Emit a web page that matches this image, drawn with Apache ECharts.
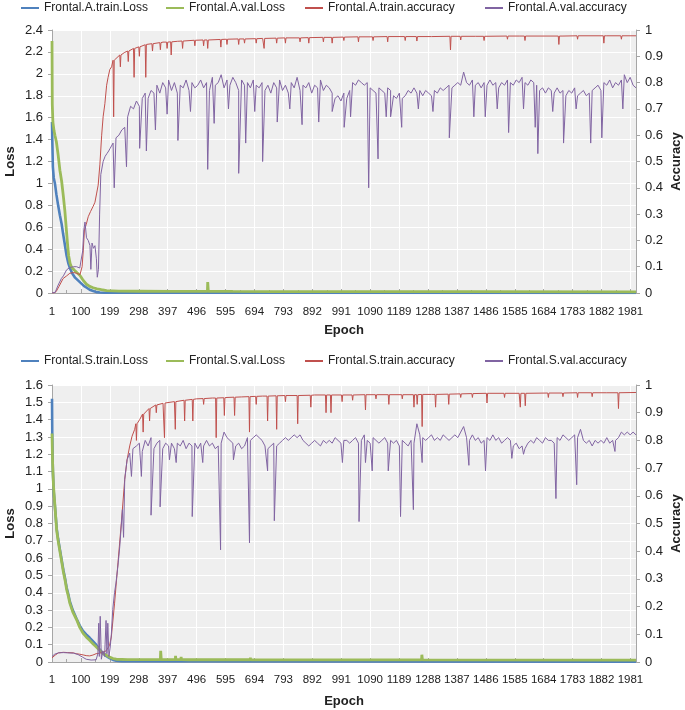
<!DOCTYPE html>
<html><head><meta charset="utf-8">
<script src="https://cdn.jsdelivr.net/npm/echarts@6/dist/echarts.min.js"></script>
<style>html,body{margin:0;padding:0;background:#fff}#c{width:685px;height:710px}</style>
</head><body><div id="c"></div>
<script>
// ---------------- DATA (epoch, value) ----------------
const seriesNamesA = ['Frontal.A.train.Loss','Frontal.A.val.Loss','Frontal.A.train.accuracy','Frontal.A.val.accuracy'];
const seriesNamesS = ['Frontal.S.train.Loss','Frontal.S.val.Loss','Frontal.S.train.accuracy','Frontal.S.val.accuracy'];

// Panel A
const aTrainLoss = [[1,1.56],[2,1.4],[4,1.15],[7,1.05],[11,1.0],[16,0.9],[22,0.8],[28,0.71],[34,0.63],[39,0.54],[45,0.44],[51,0.34],[57,0.27],[62,0.23],[70,0.18],[80,0.14],[90,0.115],[100,0.09],[110,0.065],[120,0.048],[130,0.03],[142,0.018],[153,0.008],[165,0.004],[180,0.002],[2000,0.001]];
const aValLoss = [[1,2.3],[2,1.72],[4,1.56],[8,1.48],[11,1.44],[16,1.38],[22,1.26],[28,1.12],[34,1.02],[40,0.88],[45,0.75],[51,0.55],[55,0.42],[58,0.34],[63,0.27],[68,0.235],[77,0.21],[85,0.19],[97,0.16],[108,0.115],[119,0.08],[130,0.06],[142,0.048],[155,0.038],[170,0.03],[188,0.021],[230,0.017],[300,0.016],[301,0.028],[302,0.016],[409,0.015],[410,0.03],[411,0.015],[533,0.015],[534,0.1],[536,0.015],[620,0.014],[621,0.026],[622,0.014],[760,0.013],[761,0.02],[762,0.013],[1186,0.012],[1187,0.03],[1188,0.012],[1450,0.012],[1451,0.02],[1452,0.012],[2000,0.011]];
const aTrainAccBase = [[1,0],[8,0],[15,0.005],[25,0.025],[39,0.055],[51,0.065],[62,0.075],[75,0.078],[85,0.075],[97,0.07],[104,0.1],[108,0.16],[112,0.24],[118,0.26],[125,0.29],[133,0.31],[142,0.33],[148,0.345],[154,0.38],[159,0.41],[165,0.49],[171,0.6],[176,0.67],[182,0.72],[188,0.79],[193,0.82],[199,0.85],[205,0.86],[216,0.886],[233,0.905],[250,0.915],[267,0.925],[290,0.933],[324,0.945],[350,0.95],[381,0.954],[430,0.957],[495,0.962],[600,0.965],[722,0.968],[850,0.97],[1000,0.973],[1150,0.975],[1300,0.975],[1450,0.976],[1600,0.977],[1750,0.977],[1900,0.978],[2000,0.978]];
// [epoch, low, surrounding level]
const aTrainAccDips = [[212,0.67,0.885],[235,0.86,0.905],[262,0.88,0.92],[282,0.82,0.93],[300,0.9,0.936],[322,0.82,0.944],[345,0.92,0.948],[372,0.925,0.952],[395,0.93,0.954],[409,0.905,0.955],[448,0.93,0.958],[490,0.94,0.961],[520,0.94,0.962],[534,0.93,0.962],[579,0.935,0.964],[600,0.945,0.965],[640,0.945,0.966],[660,0.95,0.966],[700,0.95,0.967],[727,0.93,0.968],[770,0.95,0.969],[800,0.95,0.97],[850,0.955,0.97],[880,0.95,0.971],[930,0.955,0.972],[960,0.95,0.972],[1000,0.96,0.973],[1050,0.955,0.974],[1100,0.96,0.974],[1150,0.955,0.975],[1210,0.96,0.975],[1250,0.958,0.975],[1365,0.924,0.976],[1400,0.962,0.976],[1480,0.96,0.976],[1560,0.965,0.977],[1620,0.96,0.977],[1736,0.945,0.977],[1800,0.965,0.978],[1890,0.95,0.978],[1950,0.965,0.978]];
const aValAccEarly = [[1,0],[12,0.003],[22,0.03],[33,0.055],[40,0.065],[51,0.088],[62,0.097],[75,0.1],[85,0.1],[96,0.095],[102,0.092],[106,0.16],[110,0.24],[114,0.27],[119,0.21],[125,0.2],[131,0.18],[134,0.09],[138,0.19],[143,0.17],[148,0.18],[153,0.13],[156,0.06],[160,0.09],[164,0.3],[168,0.45],[176,0.5],[183,0.52],[189,0.53],[195,0.54]];
const aValAccPlateauStart = 200, aValAccPlateauStep = 10;
const aValAccPlateau = [
 0.55,0.57,0.59,0.6,0.62,0.63,0.67,
 0.71,0.7,0.73,0.71,0.74,0.76,0.74,0.77,0.76,
 0.79,0.76,0.8,0.78,0.81,0.77,0.8,0.76,0.79,0.78,0.81,0.77,0.8,0.78,0.79,
 0.81,0.78,0.8,0.77,0.82,0.79,0.8,0.83,0.78,0.81,0.79,0.82,0.8,0.77,0.81,0.79,0.8,0.78,0.81,0.79,
 0.78,0.8,0.77,0.79,0.76,0.8,0.78,0.81,0.77,0.79,0.76,0.8,0.78,0.82,0.77,0.79,0.78,0.8,0.76,0.79,0.78,0.81,0.77,0.79,0.78,
 0.76,0.74,0.75,0.73,0.76,
 0.74,0.77,0.8,0.79,0.81,0.8,0.79,0.8,0.78,
 0.77,0.76,0.78,0.77,0.76,0.78,0.77,0.75,0.74,0.76,0.74,0.75,0.77,0.76,0.78,0.76,0.77,0.75,0.77,0.76,0.75,0.77,0.76,0.78,0.77,0.78,0.79,0.78,0.79,0.8,0.79,
 0.84,0.8,0.79,0.81,0.79,0.8,0.78,0.8,0.79,0.81,0.79,0.8,0.78,0.8,0.79,0.81,0.8,0.79,0.81,0.8,0.82,0.8,0.79,0.81,0.8,
 0.79,0.77,0.78,0.76,0.78,0.77,0.76,0.78,0.76,0.77,0.75,0.77,0.76,0.78,0.75,0.76,0.77,0.75,0.76,0.77,
 0.78,0.79,0.77,0.8,0.79,0.81,0.78,0.8,0.79,0.81,0.83,0.8,0.82,0.79,0.78];
const aValAccDips = [[214,0.4],[256,0.48],[301,0.55],[324,0.54],[355,0.62],[395,0.68],[432,0.58],[475,0.69],[534,0.47],[556,0.645],[605,0.7],[640,0.455],[664,0.57],[695,0.69],[722,0.5],[772,0.65],[815,0.7],[857,0.64],[914,0.65],[960,0.69],[1001,0.63],[1023,0.67],[1085,0.4],[1117,0.51],[1145,0.67],[1160,0.67],[1198,0.63],[1255,0.7],[1305,0.69],[1361,0.59],[1445,0.67],[1484,0.67],[1525,0.7],[1564,0.61],[1615,0.7],[1655,0.63],[1664,0.53],[1715,0.69],[1752,0.57],[1795,0.7],[1845,0.57],[1883,0.59],[1955,0.7]];

// Panel S
const sTrainLoss = [[1,1.52],[2,1.3],[4,1.1],[7,0.98],[11,0.9],[17,0.77],[22,0.71],[28,0.65],[34,0.59],[40,0.53],[46,0.48],[51,0.43],[57,0.39],[62,0.35],[72,0.3],[85,0.25],[96,0.21],[107,0.18],[118,0.16],[130,0.14],[141,0.12],[152,0.1],[163,0.075],[175,0.05],[186,0.035],[198,0.022],[210,0.012],[221,0.007],[240,0.004],[2000,0.002]];
const sValLoss = [[1,1.32],[3,1.15],[6,1.02],[11,0.9],[17,0.76],[22,0.7],[28,0.64],[34,0.58],[40,0.52],[46,0.47],[51,0.42],[57,0.38],[62,0.34],[72,0.29],[85,0.245],[96,0.2],[107,0.167],[118,0.145],[130,0.125],[141,0.105],[152,0.088],[163,0.07],[175,0.05],[186,0.04],[198,0.028],[210,0.02],[221,0.016],[260,0.014],[299,0.014],[300,0.025],[301,0.014],[372,0.014],[373,0.065],[375,0.014],[423,0.014],[424,0.035],[425,0.014],[442,0.014],[443,0.03],[444,0.014],[469,0.013],[470,0.022],[471,0.013],[539,0.013],[540,0.02],[541,0.013],[659,0.013],[660,0.022],[661,0.013],[679,0.013],[680,0.025],[681,0.013],[1266,0.012],[1267,0.042],[1269,0.012],[2000,0.011]];
const sTrainAccBase = [[1,0.015],[12,0.025],[23,0.033],[40,0.035],[55,0.034],[74,0.033],[84,0.03],[96,0.028],[110,0.025],[118,0.023],[130,0.022],[141,0.025],[152,0.03],[164,0.032],[175,0.035],[186,0.04],[198,0.06],[204,0.09],[215,0.21],[227,0.36],[239,0.51],[250,0.66],[258,0.73],[267,0.78],[275,0.815],[284,0.84],[301,0.875],[318,0.9],[335,0.915],[358,0.928],[381,0.934],[420,0.94],[460,0.945],[495,0.95],[550,0.953],[600,0.955],[650,0.957],[722,0.96],[800,0.962],[900,0.964],[1000,0.964],[1100,0.965],[1200,0.965],[1300,0.966],[1400,0.968],[1500,0.97],[1600,0.97],[1700,0.971],[1800,0.972],[1900,0.972],[2000,0.973]];
const sTrainAccDips = [[290,0.8,0.86],[313,0.83,0.895],[335,0.87,0.915],[358,0.9,0.928],[386,0.81,0.935],[423,0.84,0.94],[455,0.87,0.945],[483,0.87,0.948],[520,0.93,0.951],[563,0.81,0.953],[591,0.89,0.954],[626,0.89,0.956],[677,0.83,0.958],[700,0.93,0.959],[739,0.87,0.96],[770,0.84,0.961],[800,0.94,0.962],[842,0.86,0.962],[887,0.92,0.963],[939,0.9,0.964],[956,0.9,0.964],[994,0.94,0.964],[1030,0.945,0.964],[1074,0.91,0.965],[1110,0.95,0.965],[1154,0.93,0.965],[1200,0.95,0.965],[1240,0.92,0.965],[1251,0.93,0.965],[1268,0.85,0.966],[1314,0.92,0.966],[1359,0.93,0.967],[1400,0.955,0.968],[1440,0.955,0.969],[1490,0.935,0.97],[1550,0.955,0.97],[1604,0.92,0.97],[1621,0.925,0.97],[1700,0.955,0.971],[1750,0.958,0.971],[1800,0.955,0.972],[1850,0.958,0.972],[1940,0.915,0.972]];
const sValAccEarly = [[1,0.02],[10,0.028],[23,0.033],[40,0.034],[55,0.033],[74,0.032],[90,0.027],[105,0.018],[118,0.01],[135,0.007],[152,0.008],[158,0.03],[161,0.14],[163,0.02],[166,0.165],[170,0.01],[175,0.04],[181,0.02],[186,0.15],[189,0.03],[192,0.14],[196,0.02],[200,0.05],[204,0.1],[209,0.19],[215,0.25],[220,0.285],[227,0.35],[233,0.417],[242,0.55],[250,0.66],[258,0.73],[267,0.754],[278,0.77],[290,0.78]];
const sValAccPlateauStart = 300, sValAccPlateauStep = 10;
const sValAccPlateau = [
 0.79,0.76,0.8,0.78,0.81,0.77,0.79,0.8,0.77,0.79,0.78,
 0.79,0.77,0.79,0.78,0.8,0.77,0.79,0.78,0.79,0.77,0.79,0.78,0.8,0.78,0.79,0.77,0.78,0.79,0.83,0.81,
 0.8,0.79,0.78,0.79,0.77,0.78,0.81,0.8,0.81,0.82,0.81,0.8,0.78,0.77,0.78,0.79,0.78,0.79,0.8,0.81,
 0.8,0.81,0.82,0.81,0.82,0.8,0.79,0.78,0.79,0.8,0.79,0.78,0.8,0.79,0.8,0.79,0.81,0.8,0.79,0.8,
 0.8,0.79,0.8,0.81,0.79,0.8,0.82,0.8,0.79,0.81,0.8,0.79,0.8,0.81,0.79,0.8,0.79,0.8,0.78,0.8,0.79,0.78,0.8,0.79,
 0.86,0.82,0.81,0.8,0.81,0.82,0.8,0.81,0.8,0.82,0.81,0.8,0.81,0.82,0.81,0.83,
 0.85,0.81,0.8,0.82,0.8,0.81,0.79,0.8,0.81,0.8,0.82,0.8,0.81,0.79,0.8,0.81,0.8,
 0.78,0.79,0.77,0.78,0.77,0.79,
 0.8,0.79,0.81,0.8,0.79,0.81,0.8,0.8,0.79,
 0.81,0.8,0.82,0.81,0.8,0.81,0.82,0.81,0.84,
 0.8,0.79,0.8,0.78,0.8,0.79,0.8,0.79,0.81,0.79,0.8,0.8,0.81,
 0.83,0.82,0.83,0.82,0.83,0.82];
const sValAccDips = [[246,0.45],[273,0.67],[307,0.67],[340,0.53],[371,0.56],[403,0.73],[426,0.72],[481,0.525],[517,0.72],[578,0.405],[622,0.73],[677,0.43],[739,0.69],[762,0.51],[995,0.72],[1052,0.507],[1074,0.72],[1097,0.69],[1152,0.69],[1194,0.525],[1238,0.55],[1268,0.72],[1428,0.71],[1485,0.69],[1575,0.735],[1615,0.75],[1726,0.59],[1797,0.64],[1928,0.76]];

// ---------------- helpers to assemble series ----------------
const byEpoch = (a, b) => a[0] - b[0];
function plateau(start, step, vals) { return vals.map((v, i) => [start + i * step, v]); }
function dipTriplets(dips) { const out = []; dips.forEach(([e, low, lvl]) => { out.push([e - 2, lvl], [e, low], [e + 2, lvl]); }); return out; }
function toAxis(pts) { return pts.slice().sort(byEpoch).map(([e, v]) => [e - 1, v]); }

const aTrainAcc = toAxis(aTrainAccBase.concat(dipTriplets(aTrainAccDips)));
const aValAcc = toAxis(aValAccEarly.concat(plateau(aValAccPlateauStart, aValAccPlateauStep, aValAccPlateau), aValAccDips));
const sTrainAcc = toAxis(sTrainAccBase.concat(dipTriplets(sTrainAccDips)));
const sValAcc = toAxis(sValAccEarly.concat(plateau(sValAccPlateauStart, sValAccPlateauStep, sValAccPlateau), sValAccDips));

// ---------------- chart ----------------
const FONT = "'Liberation Sans', Arial, sans-serif";
const TXT = '#222';
const AX = '#a6a6a6';
const COLORS = ['#4F81BD', '#9BBB59', '#C0504D', '#8064A2'];

function xAxisCfg(grid, gap, margin) {
  return {
    type: 'value', gridIndex: grid, min: 0, max: 1999, interval: 99,
    name: 'Epoch', nameLocation: 'middle', nameGap: gap, nameMoveOverlap: false,
    nameTextStyle: { fontFamily: FONT, fontWeight: 'bold', fontSize: 13, color: TXT },
    axisLine: { show: true, lineStyle: { color: AX } },
    axisTick: { show: true, inside: true, length: 4, lineStyle: { color: AX } },
    minorTick: { show: true, splitNumber: 2, length: 3, lineStyle: { color: AX } },
    axisLabel: { formatter: v => String(v + 1), showMaxLabel: false, margin: margin, fontFamily: FONT, fontSize: 11.5, color: TXT },
    splitLine: { show: true, lineStyle: { color: '#ffffff', width: 1 } }
  };
}
function yLeftCfg(grid, max, interval) {
  return {
    type: 'value', gridIndex: grid, min: 0, max: max, interval: interval, position: 'left',
    name: 'Loss', nameLocation: 'middle', nameGap: 35, nameRotate: 90, nameMoveOverlap: false,
    nameTextStyle: { fontFamily: FONT, fontWeight: 'bold', fontSize: 13, color: TXT },
    axisLine: { show: true, lineStyle: { color: AX } },
    axisTick: { show: true, inside: false, length: 4, lineStyle: { color: AX } },
    axisLabel: { margin: 9, fontFamily: FONT, fontSize: 13, color: TXT },
    splitLine: { show: true, lineStyle: { color: '#ffffff', width: 1 } }
  };
}
function yRightCfg(grid) {
  return {
    type: 'value', gridIndex: grid, min: 0, max: 1, interval: 0.1, position: 'right',
    name: 'Accuracy', nameLocation: 'middle', nameGap: 34, nameRotate: 90, nameMoveOverlap: false,
    nameTextStyle: { fontFamily: FONT, fontWeight: 'bold', fontSize: 13, color: TXT },
    axisLine: { show: true, lineStyle: { color: AX } },
    axisTick: { show: true, inside: false, length: 4, lineStyle: { color: AX } },
    axisLabel: { margin: 9, fontFamily: FONT, fontSize: 13, color: TXT },
    splitLine: { show: false }
  };
}
const legendLefts = [21, 166, 305, 485];
function legends(names, top) {
  return names.map((n, i) => ({
    data: [n], left: legendLefts[i], top: top, padding: 0, icon: 'rect', itemWidth: 18, itemHeight: 2, itemGap: 0,
    textStyle: { fontFamily: FONT, fontSize: 12, color: TXT }
  }));
}
function line(name, data, xi, yi, color, width, z) {
  return { type: 'line', name: name, data: data, xAxisIndex: xi, yAxisIndex: yi, showSymbol: false, symbol: 'none',
    lineStyle: { color: color, width: width }, itemStyle: { color: color }, z: z, silent: true, animation: false };
}

const option = {
  animation: false,
  backgroundColor: '#ffffff',
  textStyle: { fontFamily: FONT },
  legend: legends(seriesNamesA, 2).concat(legends(seriesNamesS, 355)),
  grid: [
    { left: 52, right: 49, top: 30, height: 263, show: true, backgroundColor: '#efefef', borderWidth: 0, containLabel: false, outerBoundsMode: 'none' },
    { left: 52, right: 49, top: 385, height: 277, show: true, backgroundColor: '#efefef', borderWidth: 0, containLabel: false, outerBoundsMode: 'none' }
  ],
  xAxis: [xAxisCfg(0, 31, 13), xAxisCfg(1, 33, 12)],
  yAxis: [yLeftCfg(0, 2.4, 0.2), yRightCfg(0), yLeftCfg(1, 1.6, 0.1), yRightCfg(1)],
  series: [
    line(seriesNamesA[0], toAxis(aTrainLoss), 0, 0, COLORS[0], 2.6, 2),
    line(seriesNamesA[1], toAxis(aValLoss), 0, 0, COLORS[1], 2.8, 3),
    line(seriesNamesA[2], aTrainAcc, 0, 1, COLORS[2], 1, 4),
    line(seriesNamesA[3], aValAcc, 0, 1, COLORS[3], 1, 5),
    line(seriesNamesS[0], toAxis(sTrainLoss), 1, 2, COLORS[0], 2.6, 2),
    line(seriesNamesS[1], toAxis(sValLoss), 1, 2, COLORS[1], 2.8, 3),
    line(seriesNamesS[2], sTrainAcc, 1, 3, COLORS[2], 1, 4),
    line(seriesNamesS[3], sValAcc, 1, 3, COLORS[3], 1, 5)
  ]
};
const chart = echarts.init(document.getElementById('c'), null, { renderer: 'canvas' });
chart.setOption(option);
</script></body></html>
